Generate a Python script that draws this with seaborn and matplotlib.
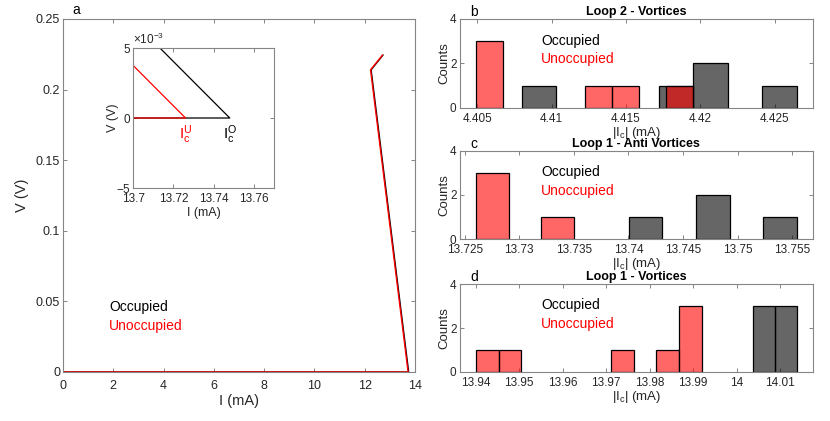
import numpy as np
import pandas as pd
import matplotlib
matplotlib.use("Agg")
import matplotlib.pyplot as plt
from matplotlib.ticker import FuncFormatter, ScalarFormatter
import seaborn as sns

# ---------------- data ----------------
# I-V traces (panel a)
occ_I = [0.0, 13.748, 12.254, 12.73]
occ_V = [0.0, 0.0, 0.214, 0.2245]
unocc_I = [0.0, 13.726, 12.232, 12.71]
unocc_V = [0.0, 0.0, 0.214, 0.2245]
Ic_occ = 13.748
Ic_unocc = 13.726

# histograms: (low edge, high edge), counts per bin
b_occ_range = (4.40798, 4.42648)
b_occ_counts = [1, 0, 0, 0, 1, 2, 0, 1]
b_un_range = (4.40493, 4.41951)
b_un_counts = [3, 0, 0, 0, 1, 1, 0, 1]

c_occ_range = (13.74002, 13.75544)
c_occ_counts = [1, 0, 2, 0, 1]
c_un_range = (13.72607, 13.73501)
c_un_counts = [3, 0, 1]

d_occ_range = (14.00375, 14.01395)
d_occ_counts = [3, 3]
d_un_range = (13.94014, 13.99195)
d_un_counts = [1, 1, 0, 0, 0, 0, 1, 0, 1, 3]

b_xlim = (4.40383, 4.42756)
c_xlim = (13.72457, 13.75688)
d_xlim = (13.9364, 14.0175)
b_ticks = [4.405, 4.41, 4.415, 4.42, 4.425]
c_ticks = [13.725, 13.73, 13.735, 13.74, 13.745, 13.75, 13.755]
d_ticks = [13.94, 13.95, 13.96, 13.97, 13.98, 13.99, 14.0, 14.01]

titles = ["Loop 2 - Vortices", "Loop 1 - Anti Vortices", "Loop 1 - Vortices"]

# ---------------- style ----------------
sns.set_theme(style="white")
plt.rcParams['font.family'] = ['Liberation Sans', 'DejaVu Sans']
plt.rcParams['mathtext.fontset'] = 'custom'
plt.rcParams['mathtext.rm'] = 'Liberation Sans'
plt.rcParams['mathtext.it'] = 'Liberation Sans'
plt.rcParams['axes.unicode_minus'] = False

SPINE = '#858585'
TXT = '#262626'
RED_FACE = (1.0, 0.0, 0.0, 0.6)
BLK_FACE = (0.0, 0.0, 0.0, 0.6)


def style_axes(ax, tick_size=9, xpad=4.0, ypad=2.0):
    for s in ax.spines.values():
        s.set_color(SPINE)
        s.set_linewidth(0.8)
        s.set_visible(True)
    ax.tick_params(direction='in', length=3, width=0.7, color=SPINE,
                   labelcolor=TXT, labelsize=tick_size,
                   top=True, right=True, bottom=True, left=True)
    ax.tick_params(axis='x', pad=xpad)
    ax.tick_params(axis='y', pad=ypad)


fig = plt.figure(figsize=(8.3, 4.21), dpi=100)

# ---------------- panel a ----------------
ax_a = fig.add_axes([0.0759, 0.1164, 0.4241, 0.8385])
df_occ = pd.DataFrame({"I": occ_I, "V": occ_V})
df_un = pd.DataFrame({"I": unocc_I, "V": unocc_V})
sns.lineplot(data=df_occ, x="I", y="V", sort=False, color='black', lw=1.0,
             ax=ax_a, estimator=None)
sns.lineplot(data=df_un, x="I", y="V", sort=False, color='red', lw=1.0,
             ax=ax_a, estimator=None)
ax_a.set_xlim(0, 14)
ax_a.set_ylim(0, 0.25)
ax_a.set_xticks(np.arange(0, 15, 2))
ax_a.set_yticks([0, 0.05, 0.1, 0.15, 0.2, 0.25])
ax_a.yaxis.set_major_formatter(FuncFormatter(lambda v, p: f"{v:g}"))
style_axes(ax_a, 9, xpad=5.5, ypad=2.0)
ax_a.set_xlabel("I (mA)", fontsize=10.5, color=TXT, labelpad=2)
ax_a.set_ylabel("V (V)", fontsize=10.5, color=TXT, labelpad=5)
ax_a.text(0.1307, 0.183, "Occupied", transform=ax_a.transAxes, color='black',
          fontsize=10, va='center', ha='left')
ax_a.text(0.1307, 0.130, "Unoccupied", transform=ax_a.transAxes, color='red',
          fontsize=10, va='center', ha='left')
fig.text(72 / 830, 1 - 9.5 / 421, "a", fontsize=10, color='black',
         ha='left', va='center')

# inset
ax_in = fig.add_axes([0.1606, 0.5527, 0.1695, 0.334])
sns.lineplot(data=df_occ, x="I", y="V", sort=False, color='black', lw=0.9,
             ax=ax_in, estimator=None)
sns.lineplot(data=df_un, x="I", y="V", sort=False, color='red', lw=0.9,
             ax=ax_in, estimator=None)
ax_in.set_xlim(13.7, 13.77)
ax_in.set_ylim(-5e-3, 5e-3)
ax_in.set_xticks([13.7, 13.72, 13.74, 13.76])
ax_in.xaxis.set_major_formatter(FuncFormatter(lambda v, p: f"{v:g}"))
ax_in.set_yticks([-5e-3, 0, 5e-3])
fmt = ScalarFormatter(useMathText=True)
fmt.set_powerlimits((0, 0))
ax_in.yaxis.set_major_formatter(fmt)
style_axes(ax_in, 8.5, xpad=3.5, ypad=1.5)
ax_in.yaxis.get_offset_text().set_fontsize(8.5)
ax_in.yaxis.get_offset_text().set_color(TXT)
ax_in.set_xlabel("I (mA)", fontsize=9, color=TXT, labelpad=1)
ax_in.set_ylabel("V (V)", fontsize=9, color=TXT, labelpad=-2)
ax_in.text(Ic_unocc, -1.2e-3, r"$\mathregular{I_c^U}$", color='red',
           fontsize=11, ha='center', va='center')
ax_in.text(Ic_occ, -1.2e-3, r"$\mathregular{I_c^O}$", color='black',
           fontsize=11, ha='center', va='center')

# ---------------- panels b, c, d ----------------
panel_specs = [
    ([0.5542, 0.7442, 0.4249, 0.2107], b_occ_range, b_occ_counts,
     b_un_range, b_un_counts, b_xlim, b_ticks, "b"),
    ([0.5542, 0.4316, 0.4249, 0.2105], c_occ_range, c_occ_counts,
     c_un_range, c_un_counts, c_xlim, c_ticks, "c"),
    ([0.5542, 0.1164, 0.4249, 0.2090], d_occ_range, d_occ_counts,
     d_un_range, d_un_counts, d_xlim, d_ticks, "d"),
]

for (rect, o_rng, o_cnt, u_rng, u_cnt, xlim, ticks, letter), title in zip(panel_specs, titles):
    ax = fig.add_axes(rect)
    for rng, cnt, face in [(o_rng, o_cnt, BLK_FACE), (u_rng, u_cnt, RED_FACE)]:
        edges = list(np.linspace(rng[0], rng[1], len(cnt) + 1))
        centers = [0.5 * (edges[i] + edges[i + 1]) for i in range(len(cnt))]
        dfh = pd.DataFrame({"Ic": centers, "n": [float(c) for c in cnt]})
        n_before = len(ax.patches)
        sns.histplot(data=dfh, x="Ic", weights="n", bins=edges, ax=ax,
                     stat='count', element='bars', fill=True)
        for p in ax.patches[n_before:]:
            p.set_alpha(None)
            p.set_facecolor(face)
            p.set_edgecolor('black')
            p.set_linewidth(0.9)
            if p.get_height() == 0:
                p.set_visible(False)
    ax.set_xlim(*xlim)
    ax.set_ylim(0, 4)
    ax.set_yticks([0, 2, 4])
    ax.set_xticks(ticks)
    ax.xaxis.set_major_formatter(FuncFormatter(lambda v, p: f"{v:g}"))
    style_axes(ax, 8.5, xpad=3.5, ypad=2.5)
    ax.set_ylabel("Counts", fontsize=9.5, color=TXT, labelpad=0)
    ax.set_xlabel(r"$\mathregular{|I_c|}$ (mA)", fontsize=9.5, color=TXT,
                  labelpad=0)
    ax.set_title(title, fontsize=9, fontweight='bold', color='black', pad=3)
    ax.text(0.2297, 0.757, "Occupied", transform=ax.transAxes,
            color='black', fontsize=10, va='center', ha='left')
    ax.text(0.2297, 0.548, "Unoccupied", transform=ax.transAxes,
            color='red', fontsize=10, va='center', ha='left')
    top_px = (1 - rect[1] - rect[3]) * 421
    fig.text(470 / 830, 1 - (top_px - 7) / 421, letter, fontsize=10,
             color='black', ha='left', va='center')

fig.savefig("out.png", dpi=100)
